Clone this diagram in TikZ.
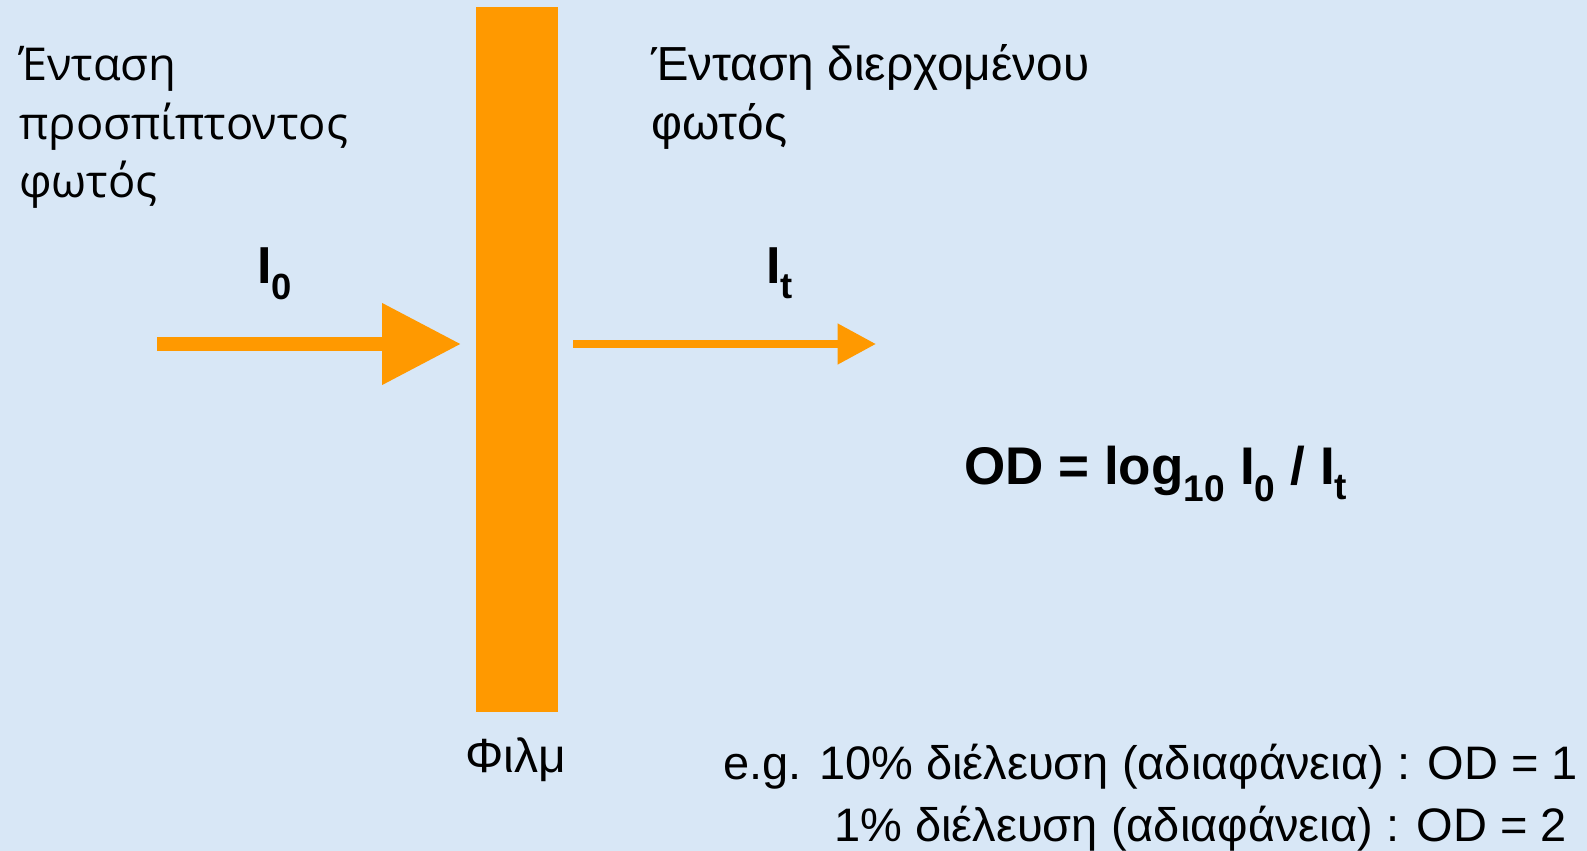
\documentclass[tikz,border=0pt]{standalone}
\usepackage{fontspec}
\setmainfont{Liberation Sans}
\newfontfamily\osf{Open Sans}
\usetikzlibrary{arrows.meta}
\definecolor{bgblue}{RGB}{216,231,246}
\definecolor{filmorange}{RGB}{255,153,0}
\tikzset{
  lbl/.style={inner sep=0pt, anchor=base west, text=black},
  leftlbl/.style={lbl, font=\osf\fontsize{45.3}{56}\selectfont},
  rightlbl/.style={lbl, font=\fontsize{47.8}{56}\selectfont},
  intlbl/.style={lbl, font=\bfseries\fontsize{52}{60}\selectfont},
  formula/.style={lbl, font=\bfseries\fontsize{53}{60}\selectfont},
  notelbl/.style={inner sep=0pt, anchor=base east, text=black, font=\fontsize{47}{56}\selectfont},
  beam/.style={draw=filmorange, line cap=butt}
}
\begin{document}
\begin{tikzpicture}[x=1pt,y=-1pt]
\fill[bgblue] (0,0) rectangle (1587,851);
\useasboundingbox (0,0) rectangle (1587,851);

% film
\node[fill=filmorange, inner sep=0pt, minimum width=82pt, minimum height=705pt, anchor=north west] (film) at (476,7) {};

% left labels
\node[leftlbl] (l1) at (19,81) {Ένταση};
\node[leftlbl] (l2) at (19,139) {προσπίπτοντος};
\node[leftlbl] (l3) at (19,197) {φωτός};

% right labels
\node[rightlbl] (r1) at (651,81) {Ένταση διερχομένου};
\node[rightlbl] (r2) at (651,139) {φωτός};

% intensities
\node[intlbl] (i0) at (257,283) {I\textsubscript{0}};
\node[intlbl] (it) at (766,283) {I\textsubscript{t}};

% arrows
\coordinate (a0s) at (157,344);
\coordinate (a0e) at (461,344);
\coordinate (a1s) at (573,344);
\coordinate (a1e) at (876,344);
\draw[beam, line width=14.5pt, -{Triangle[length=79pt,width=78pt]}] (a0s) -- (a0e);
\draw[beam, line width=8pt, -{Triangle[length=38.5pt,width=39pt]}] (a1s) -- (a1e);

% formula
\node[formula] (od) at (964,484) {OD = log\textsubscript{10} I\textsubscript{0} / I\textsubscript{t}};

% film label
\node[lbl, font=\fontsize{48}{56}\selectfont] (fl) at (465,772) {Φιλμ};

% notes
\node[notelbl] (n1) at (1578,779) {e.g. 10\% διέλευση (αδιαφάνεια) : OD = 1};
\node[notelbl] (n2) at (1567,841) {1\% διέλευση (αδιαφάνεια) : OD = 2};
\end{tikzpicture}
\end{document}
